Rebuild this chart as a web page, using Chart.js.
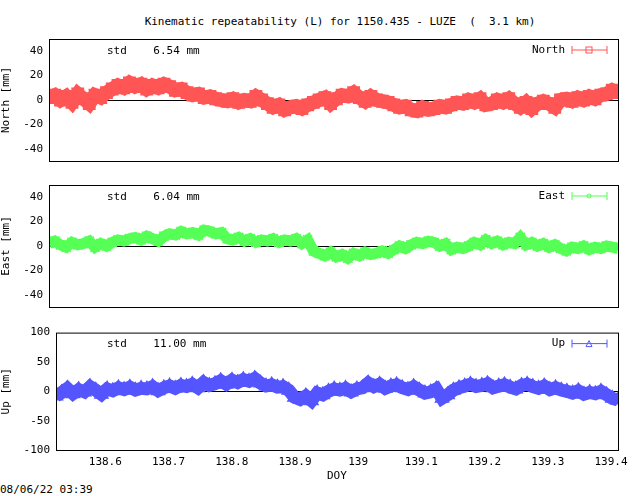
<!DOCTYPE html>
<html><head><meta charset="utf-8">
<script src="https://cdn.jsdelivr.net/npm/chart.js@4/dist/chart.umd.min.js"></script>
<style>
body{margin:0;background:#fff;width:640px;height:496px;position:relative;overflow:hidden;font-family:"DejaVu Sans Mono",monospace;}
canvas{position:absolute;left:0;}
.t{position:absolute;font-size:11px;color:#000;white-space:pre;}
</style></head><body>
<div class="t" style="left:0;width:680px;text-align:center;top:15px">Kinematic repeatability (L) for 1150.435 - LUZE  (  3.1 km)</div>
<div class="t" style="left:0;top:483px">08/06/22 03:39</div>
<canvas id="c1" style="top:0"></canvas>
<canvas id="c2" style="top:172px"></canvas>
<canvas id="c3" style="top:320px"></canvas>
<div class="t" style="left:327px;top:469px">DOY</div>
<script>
const doyStart = 138.522, doyEnd = 139.411;
const doyTicks = [138.6, 138.7, 138.8, 138.9, 139, 139.1, 139.2, 139.3, 139.4];
const neTicks = [-40, -20, 0, 20, 40];
const upTicks = [-100, -50, 0, 50, 100];
const north = [2,4,0,3,-2,5,1,-3,4,2, 6,9,12,10,14,11,13,9,12,10, 13,11,8,9,6,4,5,2,3,1,
  0,-1,1,-2,0,-1,3,0,-3,-6, -4,-8,-6,-5,-7,-4,-2,0,2,-3, 1,4,3,6,2,-1,3,0,-1,-2,
  -4,-6,-5,-8,-9,-6,-8,-7,-5,-6, -4,-2,-3,0,-2,1,-4,-3,0,-2, 1,-3,-6,-2,-7,-3,-1,-3,-6,0,
  1,-1,2,0,3,1,4,5,8,6];
const east = [2,4,1,-1,3,1,2,4,-1,2, 0,3,5,4,6,7,5,8,6,4, 8,10,9,12,10,11,9,13,12,10,
  11,6,5,7,4,6,3,5,4,6, 3,5,4,6,2,5,-4,-6,-8,-5, -9,-7,-10,-6,-8,-5,-7,-6,-4,-6,
  -3,0,-2,1,3,2,4,3,0,2, -3,-1,-2,0,3,1,5,2,4,1, 3,2,7,1,3,0,2,-1,1,-2,
  -4,-1,-2,0,-3,-1,-2,0,-1,-2];
const up = [-8,-2,5,-4,3,-1,8,2,-5,4, 1,6,3,7,2,5,4,8,1,6, 9,5,10,8,12,6,15,10,13,18,
  12,19,15,20,17,22,14,9,11,7, 8,2,-10,-14,-8,-16,-3,-6,0,4, 2,5,-1,4,6,14,8,12,5,9,
  11,6,3,8,2,-3,-1,4,-12,-6, 2,6,9,12,8,10,13,6,9,11, 7,4,10,12,8,5,9,3,6,2,
  0,-3,1,-5,-2,-4,0,-6,-12,-15];

const FONT = { family: 'DejaVu Sans Mono', size: 11 };

function frame(stdText, name, color, style) {
  return {
    id: 'frame',
    afterDraw(chart) {
      const a = chart.chartArea, c = chart.ctx;
      c.save();
      c.strokeStyle = '#000'; c.lineWidth = 1;
      c.strokeRect(a.left + 0.5, a.top + 0.5, a.right - a.left, a.bottom - a.top);
      c.font = '11px "DejaVu Sans Mono"'; c.fillStyle = '#000'; c.textBaseline = 'middle';
      c.fillText(stdText, 107, a.top + 12);
      c.textAlign = 'right';
      c.fillText(name, 565, a.top + 11);
      c.strokeStyle = color;
      c.beginPath();
      c.moveTo(572, a.top + 11); c.lineTo(607, a.top + 11);
      c.moveTo(572, a.top + 7); c.lineTo(572, a.top + 15);
      c.moveTo(607, a.top + 7); c.lineTo(607, a.top + 15);
      c.stroke();
      if (style === 'rect') c.strokeRect(586, a.top + 8, 6, 6);
      else if (style === 'triangle') { c.beginPath(); c.moveTo(586, a.top + 14); c.lineTo(589, a.top + 8); c.lineTo(592, a.top + 14); c.closePath(); c.stroke(); }
      else { c.beginPath(); c.arc(589, a.top + 11, 2, 0, 7); c.stroke(); }
      c.restore();
    }
  };
}

function makeChart(id, h, padTop, yWidth, xHeight, vals, yMin, yMax, yTicks, title, color, style, band, stdText, name, showX) {
  const el = document.getElementById(id);
  el.width = 640; el.height = h;
  const n = vals.length;
  const pts = vals.map((v, i) => ({ x: doyStart + i * (doyEnd - doyStart) / (n - 1), y: v }));
  new Chart(el, {
    type: 'scatter',
    data: { datasets: [
      { data: pts, showLine: true, borderColor: color, borderWidth: band, pointRadius: 0, tension: 0 },
      { data: pts, showLine: false, pointStyle: style, pointRadius: band / 2 + 1,
        pointBorderColor: color, pointBorderWidth: 1.5, pointBackgroundColor: color }
    ]},
    options: {
      responsive: false, animation: false, events: [],
      layout: { padding: { top: padTop, right: 22, left: 0, bottom: 0 } },
      plugins: { legend: { display: false }, tooltip: { enabled: false } },
      scales: {
        x: {
          type: 'linear', min: doyStart, max: doyEnd,
          afterBuildTicks: s => { s.ticks = doyTicks.map(v => ({ value: v })); },
          afterFit: s => { s.height = xHeight; },
          grid: { display: false, drawTicks: false }, border: { display: false },
          ticks: { display: showX, color: '#000', font: FONT, padding: 6,
            callback: v => String(Math.round(v * 10) / 10) }
        },
        y: {
          min: yMin, max: yMax,
          afterBuildTicks: s => { s.ticks = yTicks.map(v => ({ value: v })); },
          ticks: { color: '#000', font: FONT, padding: 6 },
          afterFit: s => { s.width = yWidth; },
          grid: { color: c => c.tick && c.tick.value === 0 ? '#000' : 'rgba(0,0,0,0)', drawTicks: false },
          border: { display: false },
          title: { display: true, text: title, color: '#000', font: FONT, padding: 0 }
        }
      }
    },
    plugins: [frame(stdText, name, color, style)]
  });
}

makeChart('c1', 175, 39, 49, 14, north, -50, 50, neTicks, 'North [mm]', '#ff5555', 'rect', 14, 'std    6.54 mm', 'North', false);
makeChart('c2', 149, 13, 49, 14, east, -50, 50, neTicks, 'East [mm]', '#55ff55', 'crossRot', 11, 'std    6.04 mm', 'East', false);
makeChart('c3', 176, 9, 56, 46, up, -100, 100, upTicks, 'Up [mm]', '#5555ff', 'triangle', 13, 'std    11.00 mm', 'Up', true);
</script>
</body></html>
